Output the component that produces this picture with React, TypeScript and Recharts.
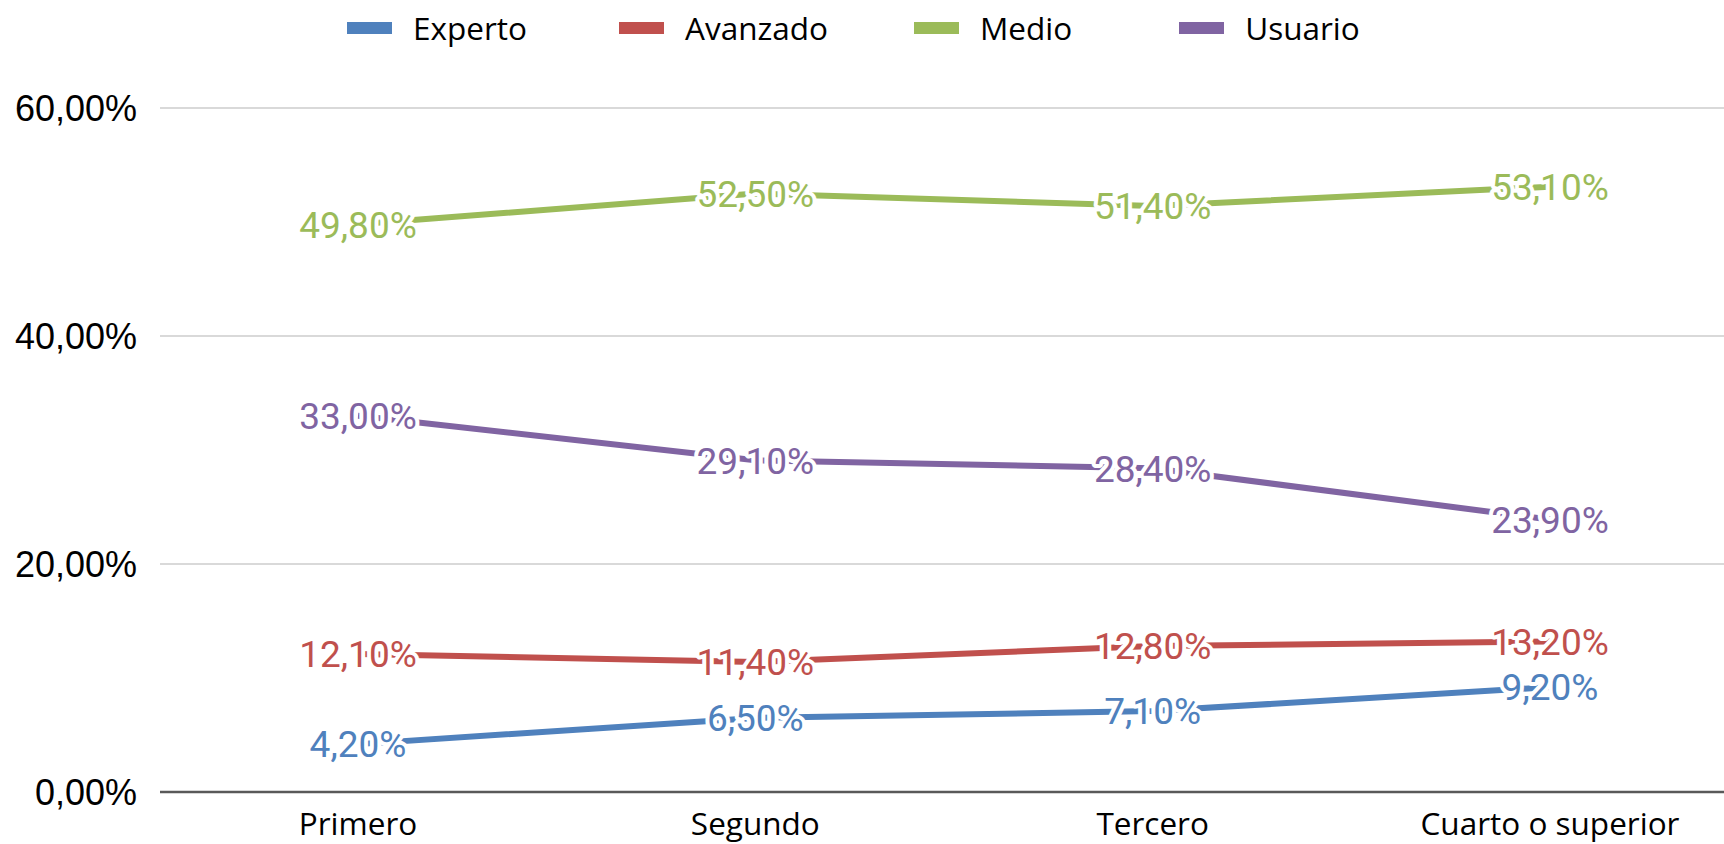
import { LineChart, Line, XAxis, YAxis, CartesianGrid, Legend, LabelList } from "recharts";

const cursos = ["Primero", "Segundo", "Tercero", "Cuarto o superior"];
const experto = [4.2, 6.5, 7.1, 9.2];
const avanzado = [12.1, 11.4, 12.8, 13.2];
const medio = [49.8, 52.5, 51.4, 53.1];
const usuario = [33.0, 29.1, 28.4, 23.9];
const yTicks = [0, 20, 40, 60];
const seriesOrder = ["Experto", "Avanzado", "Medio", "Usuario"];
const legendGaps = [92, 86, 107, 0];

const COLORS = {
  experto: "#4f81bd",
  avanzado: "#c0504d",
  medio: "#9bbb59",
  usuario: "#8064a2",
};

const data = cursos.map((curso, i) => ({
  curso,
  experto: experto[i],
  avanzado: avanzado[i],
  medio: medio[i],
  usuario: usuario[i],
}));

const pct = (v: number) => `${v.toFixed(2).replace(".", ",")}%`;

const makeLabel = (color: string) => (props: any) => {
  const { x, y, value } = props;
  if (x == null || y == null) return null;
  return (
    <text
      x={x}
      y={y}
      dy="0.36em"
      textAnchor="middle"
      fill={color}
      stroke="#fff"
      strokeWidth={8}
      strokeLinejoin="round"
      paintOrder="stroke"
      fontFamily="Roboto, sans-serif"
      fontSize={37}
    >
      {pct(Number(value))}
    </text>
  );
};

const renderLegend = (props: any) => {
  const items = [...(props.payload || [])].sort(
    (a: any, b: any) => seriesOrder.indexOf(a.value) - seriesOrder.indexOf(b.value)
  );
  return (
    <div style={{ display: "flex", alignItems: "center" }}>
      {items.map((entry: any, index: number) => (
        <div key={`item-${index}`} style={{ display: "flex", alignItems: "center", marginRight: legendGaps[index] }}>
          <span style={{ width: 45, height: 12, background: entry.color, display: "inline-block", marginRight: 21 }} />
          <span style={{ fontFamily: "'Open Sans', sans-serif", fontSize: 31.5, color: "#000", lineHeight: "36px" }}>
            {entry.value}
          </span>
        </div>
      ))}
    </div>
  );
};

export default function App() {
  return (
    <div style={{ position: "absolute", left: 0, top: 0, width: 1724, height: 844, overflow: "hidden", background: "#fff" }}>
      <LineChart width={1760} height={844} data={data} margin={{ top: 108, right: 12, bottom: 12, left: 0 }}>
        <CartesianGrid vertical={false} stroke="#d9d9d9" strokeWidth={2} />
        <XAxis
          dataKey="curso"
          height={40}
          padding={{ left: 198, right: 198 }}
          axisLine={{ stroke: "#595959", strokeWidth: 2.5 }}
          tickLine={false}
          tickSize={6}
          tickMargin={15}
          tick={{ fontFamily: "'Open Sans', sans-serif", fontSize: 31.5, fill: "#000" }}
        />
        <YAxis
          width={160}
          domain={[0, 60]}
          ticks={yTicks}
          axisLine={false}
          tickLine={false}
          tickSize={6}
          tickMargin={17}
          tickFormatter={pct}
          tick={{ fontFamily: "'Liberation Sans', Arial, sans-serif", fontSize: 36, fill: "#000" }}
        />
        <Legend
          verticalAlign="middle"
          align="center"
          content={renderLegend}
          wrapperStyle={{ top: 10, left: 347, width: "auto" }}
        />
        <Line dataKey="experto" name="Experto" stroke={COLORS.experto} strokeWidth={6} dot={false} isAnimationActive={false}>
          <LabelList dataKey="experto" content={makeLabel(COLORS.experto)} />
        </Line>
        <Line dataKey="avanzado" name="Avanzado" stroke={COLORS.avanzado} strokeWidth={6} dot={false} isAnimationActive={false}>
          <LabelList dataKey="avanzado" content={makeLabel(COLORS.avanzado)} />
        </Line>
        <Line dataKey="medio" name="Medio" stroke={COLORS.medio} strokeWidth={6} dot={false} isAnimationActive={false}>
          <LabelList dataKey="medio" content={makeLabel(COLORS.medio)} />
        </Line>
        <Line dataKey="usuario" name="Usuario" stroke={COLORS.usuario} strokeWidth={6} dot={false} isAnimationActive={false}>
          <LabelList dataKey="usuario" content={makeLabel(COLORS.usuario)} />
        </Line>
      </LineChart>
    </div>
  );
}
